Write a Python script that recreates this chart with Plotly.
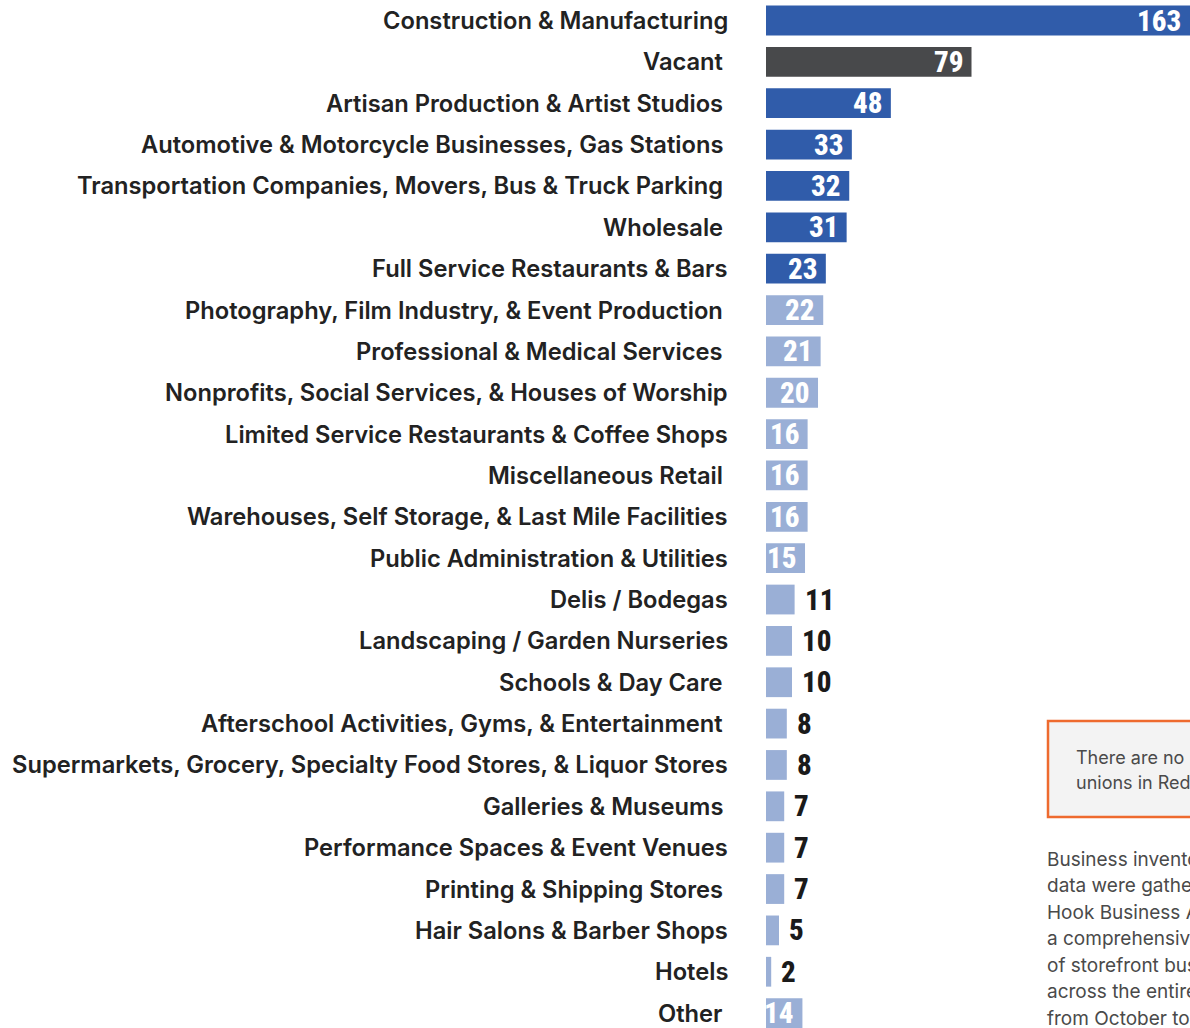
import plotly.graph_objects as go

categories = [
    "Construction & Manufacturing",
    "Vacant",
    "Artisan Production & Artist Studios",
    "Automotive & Motorcycle Businesses, Gas Stations",
    "Transportation Companies, Movers, Bus & Truck Parking",
    "Wholesale",
    "Full Service Restaurants & Bars",
    "Photography, Film Industry, & Event Production",
    "Professional & Medical Services",
    "Nonprofits, Social Services, & Houses of Worship",
    "Limited Service Restaurants & Coffee Shops",
    "Miscellaneous Retail",
    "Warehouses, Self Storage, & Last Mile Facilities",
    "Public Administration & Utilities",
    "Delis / Bodegas",
    "Landscaping / Garden Nurseries",
    "Schools & Day Care",
    "Afterschool Activities, Gyms, & Entertainment",
    "Supermarkets, Grocery, Specialty Food Stores, & Liquor Stores",
    "Galleries & Museums",
    "Performance Spaces & Event Venues",
    "Printing & Shipping Stores",
    "Hair Salons & Barber Shops",
    "Hotels",
    "Other",
]
values = [163, 79, 48, 33, 32, 31, 23, 22, 21, 20, 16, 16, 16, 15, 11, 10, 10, 8, 8, 7, 7, 7, 5, 2, 14]
groups = ["top", "vacant", "top", "top", "top", "top", "top",
          "rest", "rest", "rest", "rest", "rest", "rest", "rest", "rest", "rest",
          "rest", "rest", "rest", "rest", "rest", "rest", "rest", "rest", "rest"]
# labels whose right edge sits slightly further left in the original layout
indented = {"Vacant", "Artisan Production & Artist Studios",
            "Automotive & Motorcycle Businesses, Gas Stations",
            "Transportation Companies, Movers, Bus & Truck Parking", "Wholesale",
            "Photography, Film Industry, & Event Production",
            "Professional & Medical Services", "Miscellaneous Retail",
            "Schools & Day Care", "Afterschool Activities, Gyms, & Entertainment",
            "Galleries & Museums", "Printing & Shipping Stores", "Other"}

box_lines = ["There are no business", "unions in Red Hook."]
note_lines = ["Business inventory", "data were gathered by Red", "Hook Business Alliance,",
              "a comprehensive survey", "of storefront businesses", "across the entire area",
              "from October to December", "2023."]

color_map = {"top": "#305CAA", "vacant": "#48494B", "rest": "#9AAFD6"}
colors = [color_map[g] for g in groups]

LABEL_FONT = "Inter, Roboto, 'Noto Sans', sans-serif"
NUM_FONT = ("'Roboto Condensed', 'Open Sans Condensed', 'Noto Sans Condensed', "
            "'Liberation Sans Narrow', 'DejaVu Sans Condensed', 'Arial Narrow', Roboto, sans-serif")

fig = go.Figure()
fig.add_trace(go.Bar(
    x=values, y=categories, orientation="h",
    marker=dict(color=colors, line=dict(width=0)),
    hoverinfo="x+y",
))

annotations = []
for cat, v in zip(categories, values):
    annotations.append(dict(
        x=0, y=cat, xref="x", yref="y", text=cat, showarrow=False,
        xanchor="right", yanchor="middle",
        xshift=-41 if cat in indented else -36,
        font=dict(family=LABEL_FONT, size=23.7, color="#222222", weight=600),
    ))
    inside = v >= 14
    annotations.append(dict(
        x=v, y=cat, xref="x", yref="y", text=str(v), showarrow=False,
        xanchor="right" if inside else "left", yanchor="middle",
        xshift=-7 if inside else 8, yshift=0,
        font=dict(family=NUM_FONT, size=29, color="#FFFFFF" if inside else "#1A1A1A", weight=800),
    ))

W_PLOT = 1190 - 766
def px_x(px):
    return (px - 766) / W_PLOT
def px_y(py):
    return (1028 - py) / 1028

for i, line in enumerate(box_lines):
    annotations.append(dict(
        x=px_x(1074), y=px_y(757 + i * 25), xref="paper", yref="paper",
        text=line, showarrow=False, align="left",
        xanchor="left", yanchor="middle",
        font=dict(family=LABEL_FONT, size=18, color="#4A4A4A"),
    ))
for i, line in enumerate(note_lines):
    annotations.append(dict(
        x=px_x(1045), y=px_y(859 + i * 26.5), xref="paper", yref="paper",
        text=line, showarrow=False, align="left",
        xanchor="left", yanchor="middle",
        font=dict(family=LABEL_FONT, size=19, color="#4A4A4A"),
    ))

fig.update_layout(
    width=1190, height=1028,
    margin=dict(l=766, r=0, t=0, b=0),
    paper_bgcolor="white", plot_bgcolor="white",
    showlegend=False, bargap=0.28,
    xaxis=dict(range=[0, 163], showgrid=False, zeroline=False, showticklabels=False,
               fixedrange=True),
    yaxis=dict(categoryorder="array", categoryarray=categories,
               range=[24.36, -0.496], showgrid=False, zeroline=False,
               showticklabels=False),
    annotations=annotations,
    shapes=[dict(type="rect", xref="paper", yref="paper",
                 x0=px_x(1048), x1=1.6, y0=px_y(817), y1=px_y(721),
                 line=dict(color="#EE6A2E", width=2.5), fillcolor="#F3F3F3",
                 layer="below")],
)

fig.write_html(
    "out.html",
    config={"displayModeBar": False},
    post_script="document.body.style.margin='0';document.body.style.overflow='hidden';",
)
